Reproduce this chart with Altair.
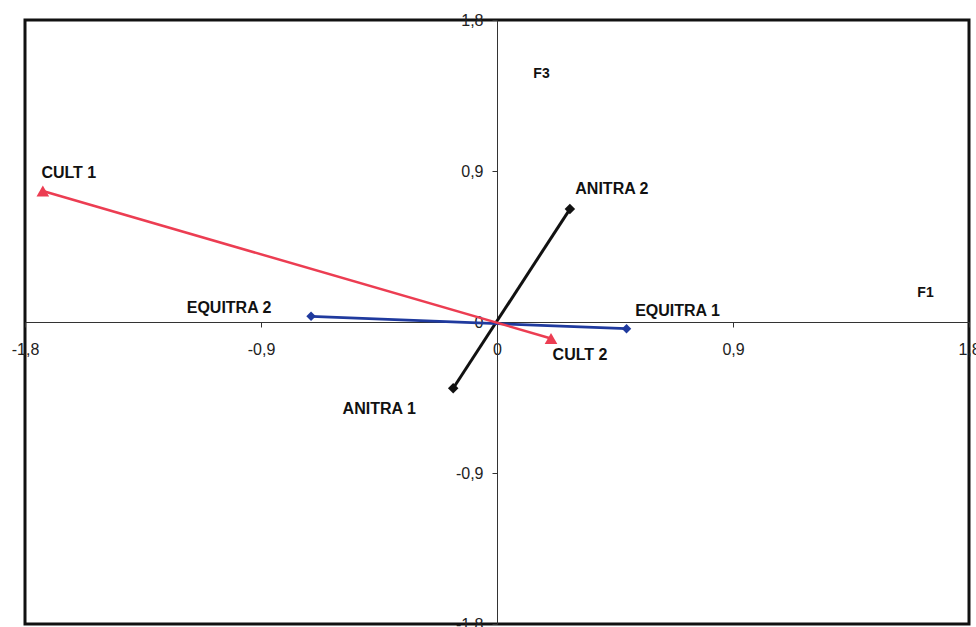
import altair as alt
import pandas as pd

# Factor coordinates of each modality on axes F1 (horizontal) and F3 (vertical)
labels = ["ANITRA 1", "ANITRA 2", "EQUITRA 1", "EQUITRA 2", "CULT 1", "CULT 2"]
groups = ["ANITRA", "ANITRA", "EQUITRA", "EQUITRA", "CULT", "CULT"]
f1 = [-0.167, 0.278, 0.494, -0.709, -1.732, 0.206]
f3 = [-0.395, 0.673, -0.040, 0.034, 0.781, -0.098]

tick_values = [-1.8, -0.9, 0, 0.9, 1.8]

group_names = ["ANITRA", "EQUITRA", "CULT"]
group_colors = ["#111111", "#1f3a9e", "#ec3d52"]
group_shapes = ["diamond", "diamond", "triangle-up"]
group_widths = [3, 2.5, 1.3]
group_sizes = [110, 90, 160]

# label placement (pixel offsets from each marker)
label_offsets = {
    "ANITRA 1": (-74, 21),
    "ANITRA 2": (42, -20),
    "EQUITRA 1": (51, -18),
    "EQUITRA 2": (-82, -8),
    "CULT 1": (26, -18),
    "CULT 2": (29, 17),
}

df = pd.DataFrame({"label": labels, "group": groups, "F1": f1, "F3": f3})

W, H = 944, 604
font = "Liberation Sans"
comma_expr = ("datum.value == 0 ? '0' : "
              "replace(replace(format(datum.value, '.1f'), '.', ','), '\u2212', '-')")

x_enc = alt.X(
    "F1:Q",
    scale=alt.Scale(domain=[-1.8, 1.8], nice=False, zero=False),
    axis=alt.Axis(
        values=tick_values, orient="bottom", offset=-H / 2, grid=False,
        title="F1", titleX=900, titleY=-30, titleAlign="center",
        titleBaseline="middle", titleFont=font, titleFontSize=14,
        titleFontWeight="bold", titleColor="#111",
        labelExpr=comma_expr, labelFont=font, labelFontSize=16,
        labelColor="#222", labelPadding=14, labelFlush=False,
        labelOverlap=False, tickSize=5, tickColor="#333",
        domainColor="#333", domainWidth=1,
    ),
)
y_enc = alt.Y(
    "F3:Q",
    scale=alt.Scale(domain=[-1.8, 1.8], nice=False, zero=False),
    axis=alt.Axis(
        values=tick_values, orient="left", offset=-W / 2, grid=False,
        title="F3", titleX=44, titleY=53, titleAngle=0, titleAlign="center",
        titleBaseline="middle", titleFont=font, titleFontSize=14,
        titleFontWeight="bold", titleColor="#111",
        labelExpr=comma_expr, labelFont=font, labelFontSize=16,
        labelColor="#222", labelPadding=9, labelFlush=False,
        labelOverlap=False, tickSize=5, tickColor="#333",
        domainColor="#333", domainWidth=1,
    ),
)

color_scale = alt.Scale(domain=group_names, range=group_colors)

lines = alt.Chart(df).mark_line().encode(
    x=x_enc,
    y=y_enc,
    detail="group:N",
    color=alt.Color("group:N", scale=color_scale, legend=None),
    strokeWidth=alt.StrokeWidth(
        "group:N", scale=alt.Scale(domain=group_names, range=group_widths), legend=None
    ),
    order="F1:Q",
)

# one marker layer per series so each keeps its own shape and size
point_layers = []
for g, c, s, sz in zip(group_names, group_colors, group_shapes, group_sizes):
    point_layers.append(
        alt.Chart(df).transform_filter(alt.datum.group == g)
        .mark_point(filled=True, opacity=1, shape=s, size=sz, color=c)
        .encode(x=x_enc, y=y_enc)
    )

text_layers = []
for name in labels:
    dx, dy = label_offsets[name]
    text_layers.append(
        alt.Chart(df).transform_filter(alt.datum.label == name)
        .mark_text(dx=dx, dy=dy, font=font, fontSize=16, fontWeight="bold",
                   color="#111", align="center", baseline="middle")
        .encode(x=x_enc, y=y_enc, text="label:N")
    )

chart = alt.layer(lines, *point_layers, *text_layers).properties(
    width=W,
    height=H,
    padding={"left": 25, "top": 20, "right": 7, "bottom": 3},
    autosize=alt.AutoSizeParams(type="none"),
    background="white",
).configure_view(stroke="#111", strokeWidth=3)

chart.save("out.html", embed_options={"renderer": "svg", "actions": False})
